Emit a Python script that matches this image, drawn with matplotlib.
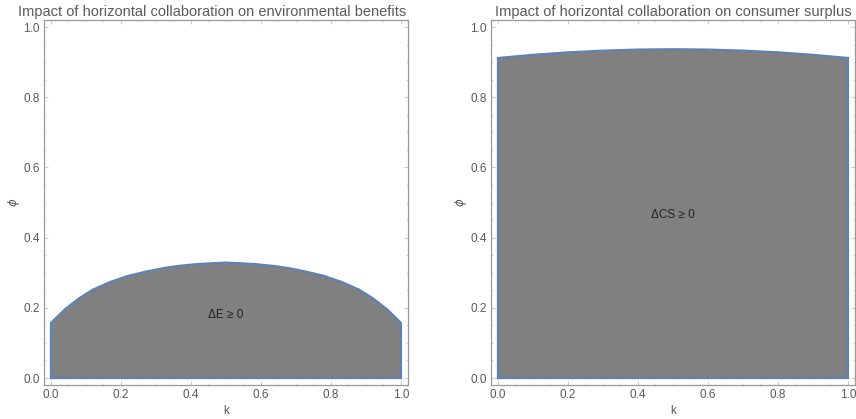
import numpy as np
import matplotlib.pyplot as plt
from matplotlib.ticker import MultipleLocator

plt.rcParams['font.family'] = ['Liberation Sans', 'DejaVu Sans']
plt.rcParams['mathtext.fontset'] = 'dejavusans'

k_env = [0.0, 0.04, 0.08, 0.12, 0.17, 0.22, 0.27, 0.32, 0.36, 0.42, 0.5,
         0.58, 0.64, 0.68, 0.73, 0.78, 0.83, 0.88, 0.92, 0.96, 1.0]
phi_env = [0.157, 0.196, 0.227, 0.252, 0.274, 0.291, 0.303, 0.313, 0.319, 0.325, 0.329,
           0.325, 0.319, 0.313, 0.303, 0.291, 0.274, 0.252, 0.227, 0.196, 0.157]
k_cs = [0.0, 0.1, 0.2, 0.3, 0.4, 0.5, 0.6, 0.7, 0.8, 0.9, 1.0]
phi_cs = [0.912, 0.921, 0.928, 0.933, 0.936, 0.937, 0.936, 0.933, 0.928, 0.921, 0.912]

titles = ['Impact of horizontal collaboration on environmental benefits',
          'Impact of horizontal collaboration on consumer surplus']
title_x = [0.462, 0.5]
labels = ['ΔE ≥ 0', 'ΔCS ≥ 0']
label_pos = [(0.5, 0.18), (0.5, 0.465)]

blue = '#5E81B5'
gray_txt = '#5a5a5a'

fig = plt.figure(figsize=(8.56, 4.19), dpi=100)
boxes = [[0.0514, 0.081, 0.4252, 0.871], [0.5736, 0.081, 0.4252, 0.871]]

for i, (kk, phi) in enumerate([(k_env, phi_env), (k_cs, phi_cs)]):
    ax = fig.add_axes(boxes[i])
    k = np.array(kk)
    y = np.array(phi)
    ax.fill_between(k, 0, y, color='#808080', linewidth=0)
    bx = np.concatenate([[0], k, [1, 0]])
    by = np.concatenate([[0], y, [0, 0]])
    ax.plot(bx, by, color=blue, lw=1.6, solid_joinstyle='miter')
    ax.set_xlim(-0.02, 1.02)
    ax.set_ylim(-0.02, 1.02)
    ax.set_title(titles[i], fontsize=10.5, color=gray_txt, pad=3, x=title_x[i])
    ax.set_xlabel('k', fontsize=8.5, color=gray_txt, labelpad=3)
    ax.set_ylabel(r'$\phi$', fontsize=8.5, color=gray_txt, labelpad=1)
    ax.text(label_pos[i][0], label_pos[i][1], labels[i], ha='center', va='center',
            fontsize=8.5, color='#222222')
    ax.xaxis.set_major_locator(MultipleLocator(0.2))
    ax.yaxis.set_major_locator(MultipleLocator(0.2))
    ax.xaxis.set_minor_locator(MultipleLocator(0.05))
    ax.yaxis.set_minor_locator(MultipleLocator(0.05))
    ax.tick_params(which='both', direction='in', top=True, right=True, colors='#cccccc',
                   labelcolor=gray_txt, labelsize=8.5, pad=3)
    ax.tick_params(which='major', length=3)
    ax.tick_params(which='minor', length=1.5)
    for s in ax.spines.values():
        s.set_color('#999999')
        s.set_linewidth(0.9)

fig.savefig('out.png', dpi=100)
